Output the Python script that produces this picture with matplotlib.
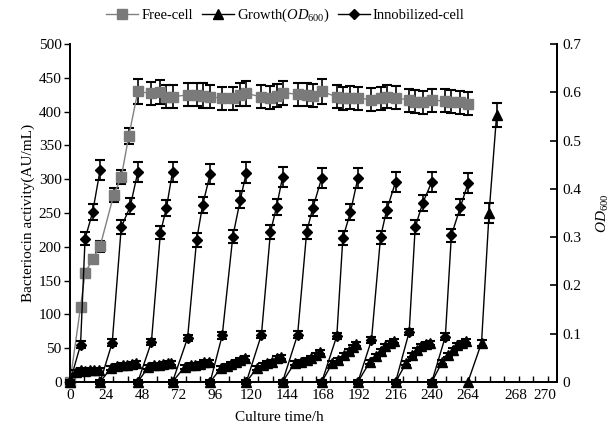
import matplotlib.pyplot as plt
from matplotlib.lines import Line2D
import numpy as np

plt.rcParams['font.family'] = ['Liberation Serif', 'DejaVu Serif']
plt.rcParams['mathtext.fontset'] = 'custom'
plt.rcParams['mathtext.rm'] = 'Liberation Serif'
plt.rcParams['mathtext.it'] = 'Liberation Serif:italic'
plt.rcParams['font.size'] = 11

# free cells (AU/mL)
free_t = [0, 7, 10, 15, 20, 29, 34, 39, 45,
          54, 60, 64, 68, 78, 84, 88, 93, 101, 108, 113, 117,
          127, 133, 137, 141, 151, 157, 161, 167, 177, 181, 186, 191,
          200, 206, 210, 216, 225, 229, 234, 240, 249, 253, 259, 264]
free_v = [0, 111, 161, 182, 201, 277, 303, 364, 430,
          427, 429, 422, 422, 425, 425, 424, 422, 420, 420, 425, 427,
          422, 421, 424, 428, 426, 425, 424, 430, 422, 420, 421, 420,
          418, 420, 422, 421, 417, 415, 414, 417, 416, 415, 414, 412]
free_err = [0, 5, 6, 6, 8, 10, 10, 12, 18,
            17, 18, 17, 17, 17, 17, 18, 17, 17, 17, 17, 18,
            17, 17, 17, 18, 17, 17, 17, 18, 17, 17, 17, 17,
            17, 17, 17, 17, 17, 17, 17, 17, 17, 17, 17, 17]

# immobilized cells, one list per batch
imm_t = [[0, 7, 10, 15, 20], [20, 28, 34, 40, 45], [45, 54, 60, 64, 68],
         [68, 78, 84, 88, 93], [93, 101, 108, 113, 117], [117, 127, 133, 137, 141],
         [141, 151, 157, 161, 167], [167, 177, 181, 186, 191], [191, 200, 206, 210, 216],
         [216, 225, 229, 234, 240], [240, 249, 253, 259, 264]]
imm_v = [[0, 55, 212, 251, 314], [0, 58, 229, 260, 311], [0, 59, 221, 258, 311],
         [0, 65, 210, 262, 308], [0, 69, 215, 270, 310], [0, 70, 222, 259, 303],
         [0, 70, 222, 257, 302], [0, 68, 213, 251, 302], [0, 62, 214, 254, 296],
         [0, 74, 229, 265, 296], [0, 67, 217, 259, 294]]
imm_err = [0, 5, 10, 12, 15]

# growth OD600, one list per batch
gro_t = [[0, 4, 7, 10, 13, 16, 19], [20, 27, 31, 35, 38, 41, 44],
         [45, 52, 56, 59, 62, 65, 67], [68, 76, 80, 83, 86, 89, 92],
         [93, 100, 104, 107, 110, 113, 116], [117, 124, 128, 131, 134, 137, 140],
         [141, 149, 153, 157, 160, 163, 166], [167, 174, 178, 182, 185, 188, 190],
         [191, 199, 203, 206, 209, 212, 215], [216, 223, 227, 230, 233, 236, 239],
         [240, 247, 251, 254, 257, 260, 263], [264, 273, 278, 283]]
gro_v = [[0, 0.020, 0.024, 0.022, 0.025, 0.024, 0.025],
         [0, 0.028, 0.034, 0.036, 0.035, 0.038, 0.039],
         [0, 0.031, 0.035, 0.036, 0.038, 0.039, 0.039],
         [0, 0.031, 0.035, 0.036, 0.038, 0.041, 0.042],
         [0, 0.028, 0.034, 0.038, 0.042, 0.046, 0.049],
         [0, 0.029, 0.035, 0.039, 0.042, 0.049, 0.052],
         [0, 0.039, 0.042, 0.046, 0.050, 0.056, 0.062],
         [0, 0.039, 0.046, 0.056, 0.064, 0.073, 0.078],
         [0, 0.042, 0.053, 0.064, 0.074, 0.081, 0.084],
         [0, 0.039, 0.056, 0.067, 0.074, 0.078, 0.081],
         [0, 0.042, 0.056, 0.066, 0.076, 0.081, 0.084],
         [0, 0.081, 0.350, 0.553]]
gro_err_last = [0, 0.006, 0.02, 0.025]

xtick_pos = [0, 24, 48, 72, 96, 120, 144, 168, 192, 216, 240, 264, 296, 315]
xtick_lab = ['0', '24', '48', '72', '96', '120', '144', '168', '192', '216',
             '240', '264', '268', '270']

fig = plt.figure(figsize=(6.14, 4.33), dpi=100)
ax = fig.add_axes([0.114, 0.118, 0.793, 0.78])
ax2 = ax.twinx()

eb = dict(ecolor='black', elinewidth=1.2, capsize=3.5, capthick=1.5, lw=1, clip_on=False)

ax.errorbar(free_t, free_v, yerr=free_err, color='#808080', marker='s', ms=6.5,
            mfc='#7a7a7a', mec='#7a7a7a', zorder=3, **eb)
for t, v in zip(imm_t, imm_v):
    ax.errorbar(t, v, yerr=imm_err, color='black', marker='D', ms=5, zorder=4, **eb)

for i, (t, v) in enumerate(zip(gro_t, gro_v)):
    err = gro_err_last if i == len(gro_t) - 1 else 0.004
    ax2.errorbar(t, v, yerr=err, color='black', marker='^', ms=6.5, zorder=4, **eb)

ax.set_xlim(0, 323)
ax.set_ylim(0, 500)
ax2.set_ylim(0, 0.7)

ax.set_yticks(range(0, 501, 50))
ax2.set_yticks([0, 0.1, 0.2, 0.3, 0.4, 0.5, 0.6, 0.7])
ax2.set_yticklabels(['0', '0.1', '0.2', '0.3', '0.4', '0.5', '0.6', '0.7'])
ax.set_xticks(xtick_pos)
ax.set_xticklabels(xtick_lab)
ax.set_xticks(np.arange(0, 323, 9.6), minor=True)

ax.tick_params(axis='x', which='major', length=0, pad=5)
ax.tick_params(axis='x', which='minor', direction='in', length=4, width=1)
ax.tick_params(axis='y', direction='out', length=4, width=1, pad=2)
ax2.tick_params(axis='y', direction='in', length=5, width=1.2, pad=4)

for a in (ax, ax2):
    a.spines['top'].set_visible(False)
    for s in ('left', 'right', 'bottom'):
        a.spines[s].set_linewidth(1.3)

ax.set_xlabel('Culture time/h', labelpad=2)
ax.xaxis.set_label_coords(0.43, -0.085)
ax.set_ylabel('Bacteriocin activity(AU/mL)', labelpad=3)
ax2.set_ylabel(r'$OD_{600}$', labelpad=10)

handles = [
    Line2D([], [], color='#808080', marker='s', ms=6.5, mfc='#7a7a7a', mec='#7a7a7a', lw=1),
    Line2D([], [], color='black', marker='^', ms=6.5, lw=1),
    Line2D([], [], color='black', marker='D', ms=5, lw=1),
]
labels = ['Free-cell', r'Growth($OD_{600}$)', 'Innobilized-cell']
fig.legend(handles, labels, loc='upper center', bbox_to_anchor=(0.465, 1.015), ncol=3,
           frameon=False, handlelength=2.2, columnspacing=0.6, handletextpad=0.2,
           fontsize=10.5)

fig.savefig('out.png', dpi=100)
